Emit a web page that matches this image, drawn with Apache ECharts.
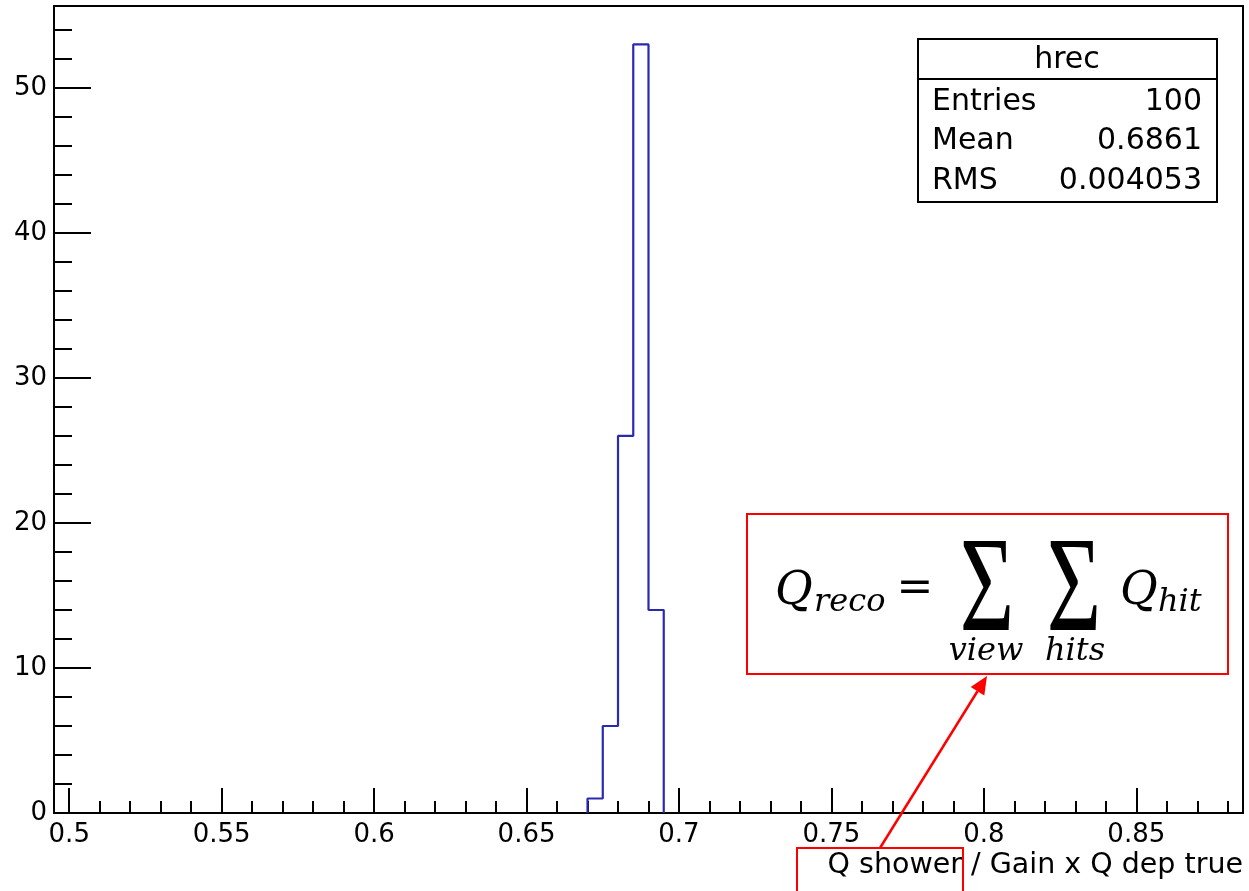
<!DOCTYPE html>
<html>
<head>
<meta charset="utf-8">
<script src="https://cdn.jsdelivr.net/npm/echarts@6/dist/echarts.min.js"></script>
<style>
  html, body { margin: 0; padding: 0; background: #fff; }
  #chart { width: 1249px; height: 891px; }
</style>
</head>
<body>
<div id="chart"></div>
<script>
// histogram hrec : bin edges + contents
var binEdges = [0.670, 0.675, 0.680, 0.685, 0.690, 0.695];
var binCounts = [1, 6, 26, 53, 14];

var xRange = [0.495, 0.885];
var yRange = [0, 55.65];
var xMajorTicks = [0.5, 0.55, 0.6, 0.65, 0.7, 0.75, 0.8, 0.85];
var yMajorTicks = [0, 10, 20, 30, 40, 50];

var statsTitle = 'hrec';
var statsLabels = ['Entries', 'Mean', 'RMS'];
var statsValues = ['100', '0.6861', '0.004053'];

var xTitle = 'Q shower / Gain x Q dep true';

// minor ticks (ROOT style, 5 divisions)
var xMinorTicks = [];
for (var i = 50; i <= 88; i++) if (i % 5) xMinorTicks.push(i / 100);
var yMinorTicks = [];
for (var j = 2; j <= 54; j += 2) if (j % 10) yMinorTicks.push(j);

// outline of the histogram
var histLine = [[binEdges[0], 0]];
for (var k = 0; k < binCounts.length; k++) {
  histLine.push([binEdges[k], binCounts[k]]);
  histLine.push([binEdges[k + 1], binCounts[k]]);
}
histLine.push([binEdges[binEdges.length - 1], 0]);

var myChart = echarts.init(document.getElementById('chart'));

var black = '#000';
var red = '#ff0000';
var sans = 'DejaVu Sans';
var serif = 'DejaVu Serif';

// stats box
var statsBox = [
  { type: 'rect', shape: { x: 918, y: 39, width: 299, height: 163 },
    style: { fill: '#fff', stroke: black, lineWidth: 2 }, z: 10 },
  { type: 'line', shape: { x1: 918, y1: 79, x2: 1217, y2: 79 },
    style: { stroke: black, lineWidth: 2 }, z: 11 },
  { type: 'text', x: 1067, y: 60, z: 11,
    style: { text: statsTitle, font: '30px "' + sans + '"', fill: black, align: 'center', verticalAlign: 'middle' } }
];
for (var s = 0; s < statsLabels.length; s++) {
  statsBox.push({ type: 'text', x: 932, y: 102 + s * 39.5, z: 11,
    style: { text: statsLabels[s], font: '30px "' + sans + '"', fill: black, align: 'left', verticalAlign: 'middle' } });
  statsBox.push({ type: 'text', x: 1202, y: 102 + s * 39.5, z: 11,
    style: { text: statsValues[s], font: '30px "' + sans + '"', fill: black, align: 'right', verticalAlign: 'middle' } });
}

// formula box
function mathText(txt, x, y, size, align, italic) {
  return { type: 'text', x: x, y: y, z: 12,
    style: { text: txt, font: (italic ? 'italic ' : '') + size + 'px "' + serif + '"', fill: black,
             align: align || 'left', verticalAlign: 'middle' } };
}
function sigma(x, y) {
  return { type: 'text', x: x, y: y, scaleX: 0.72, scaleY: 1.05, z: 12,
    style: { text: '\u03A3', font: '130px "Liberation Serif"', fill: black, align: 'center', verticalAlign: 'middle' } };
}
var formula = [
  { type: 'rect', shape: { x: 747, y: 514, width: 481, height: 160 },
    style: { fill: 'none', stroke: red, lineWidth: 2 }, z: 12 },
  mathText('Q', 775, 592, 46, 'left', true),
  mathText('reco', 814, 603, 32, 'left', true),
  mathText('=', 915, 590, 44, 'center', false),
  sigma(987, 594),
  mathText('view', 986, 652, 32, 'center', true),
  sigma(1074, 594),
  mathText('hits', 1075, 652, 32, 'center', true),
  mathText('Q', 1120, 592, 46, 'left', true),
  mathText('hit', 1158, 603, 32, 'left', true)
];

// arrow from axis title to the formula
var a0 = [880, 848], a1 = [987, 676];
var dx = a1[0] - a0[0], dy = a1[1] - a0[1];
var len = Math.sqrt(dx * dx + dy * dy);
var ux = dx / len, uy = dy / len;
var hb = [a1[0] - 18 * ux, a1[1] - 18 * uy];
var arrow = [
  { type: 'rect', shape: { x: 797, y: 848, width: 166, height: 60 },
    style: { fill: 'none', stroke: red, lineWidth: 2 }, z: 12 },
  { type: 'line', shape: { x1: a0[0], y1: a0[1], x2: hb[0], y2: hb[1] },
    style: { stroke: red, lineWidth: 2.5 }, z: 12 },
  { type: 'polygon', z: 12,
    shape: { points: [a1, [hb[0] + 8 * -uy, hb[1] + 8 * ux], [hb[0] - 8 * -uy, hb[1] - 8 * ux]] },
    style: { fill: red } }
];

var option = {
  animation: false,
  backgroundColor: '#fff',
  grid: { left: 54, right: 6, top: 6, bottom: 78, show: true, borderColor: black, borderWidth: 2 },
  xAxis: [
    {
      type: 'value', min: xRange[0], max: xRange[1], position: 'bottom',
      axisLine: { lineStyle: { color: black, width: 2 } },
      axisTick: { inside: true, length: 25, customValues: xMajorTicks, lineStyle: { color: black, width: 2 } },
      axisLabel: { customValues: xMajorTicks, color: black, fontFamily: sans, fontSize: 26, margin: 9 },
      splitLine: { show: false }
    },
    {
      type: 'value', min: xRange[0], max: xRange[1], position: 'bottom',
      axisLine: { show: false },
      axisTick: { inside: true, length: 12, customValues: xMinorTicks, lineStyle: { color: black, width: 2 } },
      axisLabel: { show: false },
      splitLine: { show: false }
    }
  ],
  yAxis: [
    {
      type: 'value', min: yRange[0], max: yRange[1], position: 'left',
      axisLine: { show: true, lineStyle: { color: black, width: 2 } },
      axisTick: { show: true, inside: true, length: 37, customValues: yMajorTicks, lineStyle: { color: black, width: 2 } },
      axisLabel: { customValues: yMajorTicks, color: black, fontFamily: sans, fontSize: 26, margin: 7 },
      splitLine: { show: false }
    },
    {
      type: 'value', min: yRange[0], max: yRange[1], position: 'left',
      axisLine: { show: false },
      axisTick: { show: true, inside: true, length: 18, customValues: yMinorTicks, lineStyle: { color: black, width: 2 } },
      axisLabel: { show: false },
      splitLine: { show: false }
    }
  ],
  series: [
    {
      type: 'line', xAxisIndex: 0, yAxisIndex: 0,
      data: histLine,
      symbol: 'none', silent: true,
      lineStyle: { color: '#2a2ab0', width: 2.2 },
      z: 5
    }
  ],
  graphic: [
    { type: 'text', x: 1243, y: 866, z: 11,
      style: { text: xTitle, font: '28.5px "' + sans + '"', fill: black, align: 'right', verticalAlign: 'middle' } }
  ].concat(statsBox, formula, arrow)
};

myChart.setOption(option);
window.addEventListener('resize', function () { myChart.resize(); });
</script>
</body>
</html>
